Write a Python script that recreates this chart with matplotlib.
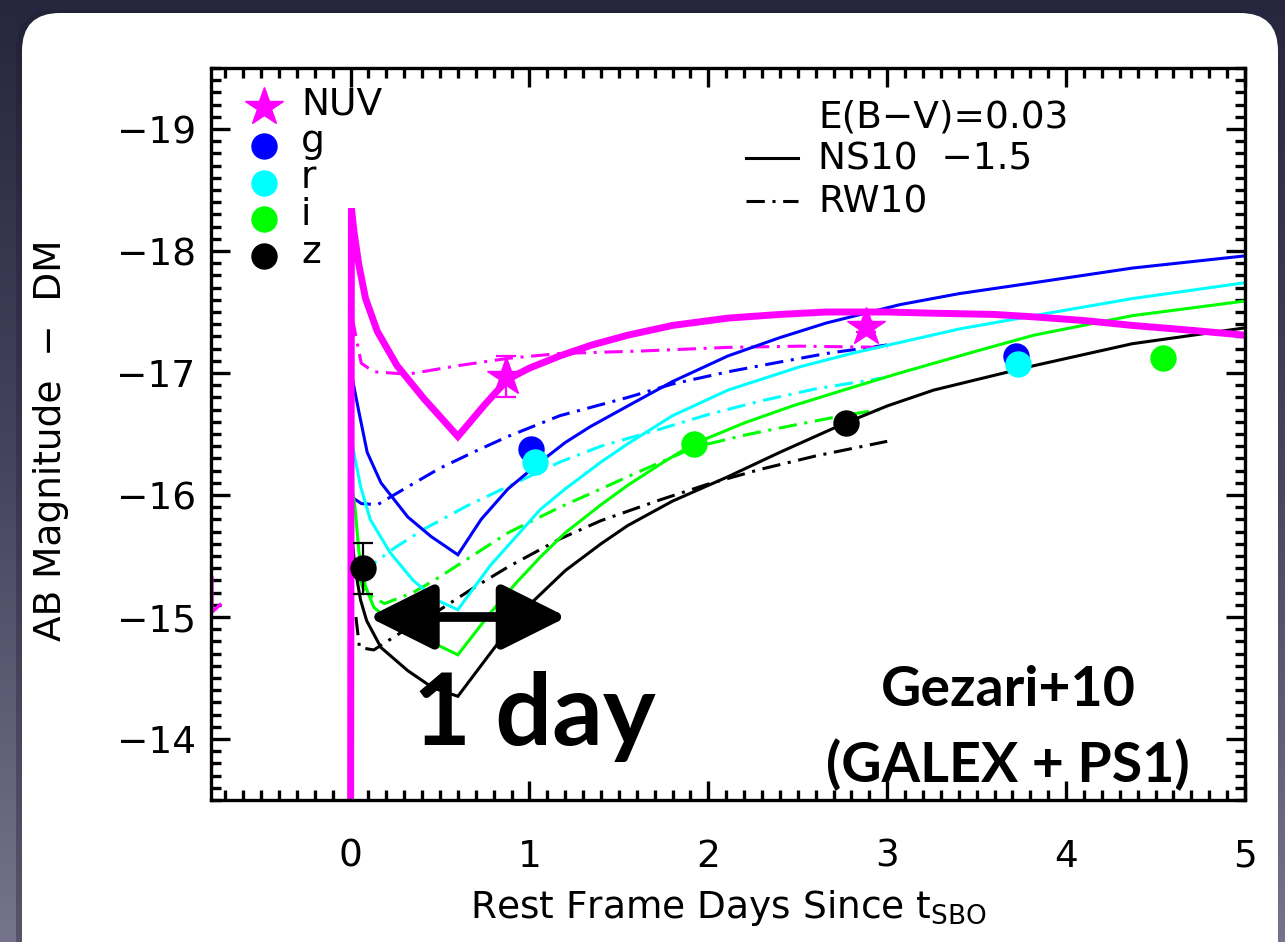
import matplotlib
matplotlib.use('Agg')
import matplotlib.pyplot as plt
import numpy as np
from matplotlib.patches import FancyBboxPatch
from matplotlib.ticker import MultipleLocator

# NS10 -1.5 model curves (solid)
nuv_ns_x = [0.0, 0.005, 0.02, 0.046, 0.084, 0.15, 0.26, 0.41, 0.60, 0.75, 0.88, 1.0, 1.17, 1.35, 1.55, 1.8, 2.11, 2.4, 2.66, 3.0, 3.26, 3.6, 3.82, 4.1, 4.37, 4.7, 5.0]
nuv_ns_y = [-13.0, -18.35, -18.15, -17.89, -17.61, -17.34, -17.06, -16.79, -16.48, -16.74, -16.95, -17.04, -17.14, -17.23, -17.31, -17.39, -17.45, -17.48, -17.50, -17.50, -17.49, -17.48, -17.46, -17.43, -17.39, -17.35, -17.31]
g_ns_x = [0.0, 0.005, 0.02, 0.047, 0.093, 0.17, 0.32, 0.45, 0.60, 0.73, 0.88, 1.06, 1.2, 1.34, 1.55, 1.8, 2.11, 2.4, 2.66, 3.07, 3.4, 3.82, 4.37, 5.0]
g_ns_y = [-13.0, -17.0, -16.88, -16.68, -16.35, -16.10, -15.82, -15.66, -15.51, -15.80, -16.05, -16.27, -16.43, -16.56, -16.73, -16.93, -17.14, -17.29, -17.41, -17.56, -17.65, -17.74, -17.86, -17.96]
r_ns_x = [0.0, 0.005, 0.025, 0.056, 0.11, 0.22, 0.35, 0.48, 0.60, 0.78, 1.06, 1.2, 1.40, 1.55, 1.8, 2.11, 2.51, 2.8, 3.07, 3.4, 3.82, 4.37, 5.0]
r_ns_y = [-13.0, -16.46, -16.30, -16.07, -15.80, -15.53, -15.30, -15.14, -15.06, -15.42, -15.88, -16.05, -16.27, -16.42, -16.65, -16.86, -17.05, -17.16, -17.25, -17.36, -17.47, -17.61, -17.74]
i_ns_x = [0.0, 0.005, 0.025, 0.047, 0.084, 0.13, 0.26, 0.43, 0.60, 0.78, 0.92, 1.06, 1.2, 1.40, 1.55, 1.75, 1.92, 2.2, 2.47, 2.8, 3.07, 3.5, 3.82, 4.37, 5.0]
i_ns_y = [-13.0, -16.1, -15.9, -15.53, -15.25, -15.08, -14.92, -14.81, -14.69, -15.03, -15.27, -15.49, -15.69, -15.92, -16.08, -16.27, -16.42, -16.59, -16.73, -16.88, -17.0, -17.18, -17.31, -17.47, -17.59]
z_ns_x = [0.0, 0.005, 0.025, 0.056, 0.09, 0.17, 0.32, 0.46, 0.60, 0.78, 0.9, 1.0, 1.2, 1.4, 1.55, 1.8, 2.11, 2.4, 2.75, 3.0, 3.26, 3.82, 4.37, 5.0]
z_ns_y = [-13.0, -15.7, -15.4, -15.14, -14.97, -14.75, -14.56, -14.42, -14.35, -14.70, -14.93, -15.10, -15.38, -15.60, -15.75, -15.95, -16.15, -16.35, -16.58, -16.73, -16.86, -17.06, -17.24, -17.37]

# RW10 model curves (dash-dot)
nuv_rw_x = [0.01, 0.03, 0.06, 0.13, 0.32, 0.6, 0.88, 1.17, 1.62, 2.11, 2.51, 3.0]
nuv_rw_y = [-17.45, -17.3, -17.08, -17.01, -16.99, -17.06, -17.12, -17.16, -17.18, -17.21, -17.22, -17.21]
g_rw_x = [0.02, 0.06, 0.15, 0.3, 0.5, 0.7, 0.88, 1.17, 1.55, 1.8, 2.11, 2.4, 2.66, 3.0]
g_rw_y = [-15.97, -15.93, -15.92, -16.05, -16.22, -16.36, -16.48, -16.65, -16.80, -16.91, -17.01, -17.09, -17.16, -17.23]
r_rw_x = [0.05, 0.13, 0.25, 0.41, 0.65, 0.88, 1.17, 1.40, 1.73, 2.0, 2.29, 2.6, 2.98]
r_rw_y = [-15.40, -15.44, -15.57, -15.72, -15.91, -16.07, -16.27, -16.40, -16.54, -16.66, -16.77, -16.87, -16.96]
i_rw_x = [0.04, 0.08, 0.19, 0.35, 0.50, 0.7, 0.88, 1.17, 1.40, 1.55, 1.92, 2.2, 2.47, 2.75, 3.0]
i_rw_y = [-15.35, -15.2, -15.11, -15.20, -15.33, -15.52, -15.69, -15.90, -16.05, -16.15, -16.39, -16.49, -16.57, -16.65, -16.71]
z_rw_x = [0.03, 0.05, 0.13, 0.3, 0.50, 0.7, 0.88, 1.17, 1.40, 1.73, 2.0, 2.29, 2.6, 3.0]
z_rw_y = [-15.0, -14.75, -14.73, -14.89, -15.06, -15.25, -15.41, -15.64, -15.79, -15.96, -16.09, -16.21, -16.32, -16.44]

# observed photometry
nuv_x, nuv_y, nuv_err = [0.87, 2.88], [-16.97, -17.38], [0.17, 0.04]
g_x, g_y = [1.01, 3.72], [-16.38, -17.14]
r_x, r_y = [1.03, 3.73], [-16.27, -17.07]
i_x, i_y = [1.92, 4.54], [-16.42, -17.12]
z_x, z_y, z_err = [0.07, 2.77], [-15.40, -16.59], [0.21, 0.0]
nuv_lim_x, nuv_lim_y = [-0.775, -0.775, -0.73], [-15.32, -15.04, -15.10]

band_names = ['NUV', 'g', 'r', 'i', 'z']
band_colors = ['#ff00ff', '#0000ff', '#00ffff', '#00ff00', '#000000']

plt.rcParams['font.family'] = 'DejaVu Sans'
plt.rcParams['font.size'] = 27
plt.rcParams['mathtext.default'] = 'regular'

W, H = 1285, 942
fig = plt.figure(figsize=(W / 100, H / 100), dpi=100)

# slide background + white card
bg = fig.add_axes([0, 0, 1, 1])
bg.axis('off')
grad = np.linspace(0, 1, 256)[:, None]
bg.imshow(grad, extent=[0, W, H, 0], aspect='auto',
          cmap=matplotlib.colors.LinearSegmentedColormap.from_list('bg', ['#26263e', '#45455f', '#75748c']))
bg.add_patch(FancyBboxPatch((16, 10), W - 30, H + 40, boxstyle='round,pad=0,rounding_size=40',
                            fc='#1c1c2c', ec='none', alpha=0.35))
bg.add_patch(FancyBboxPatch((22, 13), W - 29, H + 40, boxstyle='round,pad=0,rounding_size=38',
                            fc='white', ec='none'))
bg.set_xlim(0, W)
bg.set_ylim(H, 0)

ax = fig.add_axes([211 / W, (H - 800) / H, 1034 / W, 732 / H])
ax.set_facecolor('none')

lw = 2.2
dd = (0, (6, 2.5, 1, 2.5))
ns = [(nuv_ns_x, nuv_ns_y), (g_ns_x, g_ns_y), (r_ns_x, r_ns_y), (i_ns_x, i_ns_y), (z_ns_x, z_ns_y)]
rw = [(nuv_rw_x, nuv_rw_y), (g_rw_x, g_rw_y), (r_rw_x, r_rw_y), (i_rw_x, i_rw_y), (z_rw_x, z_rw_y)]
for k in [4, 3, 2, 1, 0]:
    ax.plot(rw[k][0], rw[k][1], color=band_colors[k], lw=lw, linestyle=dd)
for k in [4, 3, 2, 1, 0]:
    ax.plot(ns[k][0], ns[k][1], color=band_colors[k], lw=5.0 if k == 0 else lw,
            solid_joinstyle='miter')

ax.plot(nuv_lim_x, nuv_lim_y, color='#ff00ff', lw=2.5)
ax.plot([-0.78], [-13.79], 'o', color='red', ms=2)

# data points
ax.errorbar(z_x, z_y, yerr=z_err, fmt='o', color='black', ms=18, elinewidth=1.6, capsize=7, capthick=1.6, zorder=5)
ax.plot(g_x, g_y, 'o', color='#0000ff', ms=18, zorder=5)
ax.plot(r_x, r_y, 'o', color='#00ffff', ms=18, zorder=6)
ax.plot(i_x, i_y, 'o', color='#00ff00', ms=18, zorder=5)
ax.errorbar(nuv_x, nuv_y, yerr=nuv_err, fmt='*', color='#ff00ff', ms=29, elinewidth=1.6, capsize=7, capthick=1.6, zorder=6)

ax.set_xlim(-0.78, 5.0)
ax.set_ylim(-13.5, -19.5)
ax.xaxis.set_major_locator(MultipleLocator(1))
ax.xaxis.set_minor_locator(MultipleLocator(0.1))
ax.yaxis.set_major_locator(MultipleLocator(1))
ax.yaxis.set_minor_locator(MultipleLocator(0.1))
ax.tick_params(which='both', direction='in', top=True, right=True, width=2.4, color='black')
ax.tick_params(which='major', length=14)
ax.tick_params(which='minor', length=7)
ax.tick_params(axis='x', pad=28)
ax.tick_params(axis='y', pad=11)
for s in ax.spines.values():
    s.set_linewidth(2.4)

ax.text(0.5, -0.161, 'Rest Frame Days Since t$_{SBO}$', transform=ax.transAxes,
        ha='center', va='baseline')
ax.text(-0.155, 0.492, 'AB Magnitude  \u2212  DM', transform=ax.transAxes,
        ha='center', va='center', rotation=90)

# band legend
leg_mk_y = [0.947, 0.893, 0.843, 0.794, 0.743]
leg_tx_y = [0.936, 0.885, 0.836, 0.785, 0.734]
for k in range(5):
    mk = '*' if k == 0 else 'o'
    ax.plot([0.0512], [leg_mk_y[k]], mk, color=band_colors[k], ms=29 if k == 0 else 18,
            transform=ax.transAxes, clip_on=False)
    ax.text(0.087, leg_tx_y[k], band_names[k], transform=ax.transAxes, va='baseline', ha='left')

# model legend
ax.text(0.587, 0.919, 'E(B\u2212V)=0.03', transform=ax.transAxes, va='baseline')
ax.text(0.587, 0.861, 'NS10  \u22121.5', transform=ax.transAxes, va='baseline')
ax.text(0.587, 0.802, 'RW10', transform=ax.transAxes, va='baseline')
ax.plot([0.517, 0.568], [0.877, 0.877], color='black', lw=lw, transform=ax.transAxes)
ax.plot([0.517, 0.568], [0.818, 0.818], color='black', lw=lw, linestyle=dd, transform=ax.transAxes)

# annotations
ax.annotate('', xy=(1.21, -15.0), xytext=(0.10, -15.0),
            arrowprops=dict(arrowstyle='<|-|>,head_length=2.0,head_width=1.0', lw=7,
                            color='black', shrinkA=0, shrinkB=0, mutation_scale=20))
ax.text(0.313, 0.075, '1 day', transform=ax.transAxes, ha='center', va='baseline',
        fontsize=72, fontweight='bold', family='Lato')
ax.text(0.771, 0.128, 'Gezari+10', transform=ax.transAxes, ha='center', va='baseline',
        fontsize=40, fontweight='bold', family='Lato')
ax.text(0.771, 0.0246, '(GALEX + PS1)', transform=ax.transAxes, ha='center', va='baseline',
        fontsize=40, fontweight='bold', family='Lato')

fig.savefig('out.png', dpi=100)
